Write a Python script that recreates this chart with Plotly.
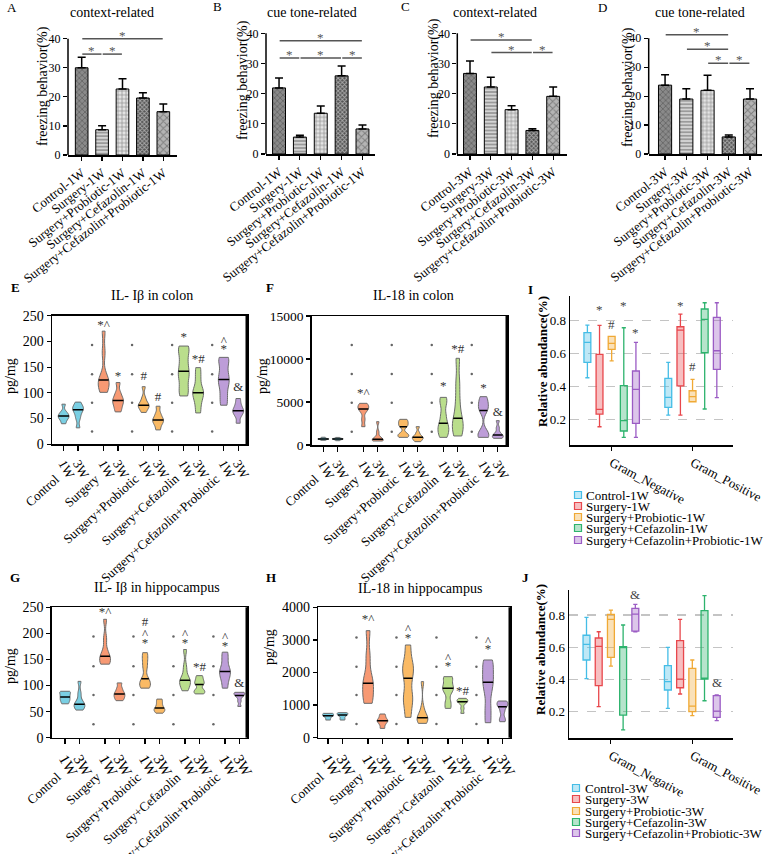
import numpy as np
import plotly.graph_objects as go

W, H = 767, 854
SERIF = "Liberation Serif"


def px_x(px):
    return px / W


def px_y(py):
    return 1 - py / H


# ------------------------------------------------------------------ data A-D
cats_1w = ["Control-1W", "Surgery-1W", "Surgery+Probiotic-1W",
           "Surgery+Cefazolin-1W", "Surgery+Cefazolin+Probiotic-1W"]
cats_3w = ["Control-3W", "Surgery-3W", "Surgery+Probiotic-3W",
           "Surgery+Cefazolin-3W", "Surgery+Cefazolin+Probiotic-3W"]

A_mean = [30.0, 8.7, 22.7, 19.6, 14.9]
A_top = [33.6, 10.1, 26.2, 21.4, 17.5]
B_mean = [21.9, 5.6, 13.5, 25.9, 8.3]
B_top = [25.2, 6.2, 15.9, 29.2, 9.6]
C_mean = [26.7, 22.2, 14.7, 7.8, 19.1]
C_top = [30.8, 25.4, 16.0, 8.4, 22.2]
D_mean = [23.8, 19.0, 22.0, 5.9, 19.0]
D_top = [27.4, 22.6, 27.2, 6.6, 22.6]

# significance brackets: (from bar, to bar, level)
A_sig = [(0, 4, 40.0), (0, 1, 34.7), (1, 2, 34.7)]
B_sig = [(0, 4, 37.5), (0, 1, 31.8), (1, 3, 31.8), (3, 4, 31.8)]
C_sig = [(0, 3, 37.8), (1, 3, 33.6), (3, 4, 33.6)]
D_sig = [(0, 3, 41.2), (1, 3, 36.2), (2, 3, 31.4), (3, 4, 31.4)]

freeze_ticks = [0, 10, 20, 30, 40]

# ------------------------------------------------------------------ data E-H (violins)
groups = ["Control", "Surgery", "Surgery+Probiotic", "Surgery+Cefazolin",
          "Surgery+Cefazolin+Probiotic"]
weeks = ["1W", "3W"]

E_1w = [[40, 48, 52, 55, 58, 63, 78],
        [101, 110, 118, 125, 130, 178, 220],
        [62, 70, 74, 76, 80, 90, 112],
        [94, 110, 130, 142, 160, 180, 191],
        [76, 95, 115, 126, 140, 160, 169]]
E_3w = [[32, 50, 60, 67, 70, 74, 82],
        [63, 72, 80, 85, 90, 100, 120],
        [28, 38, 44, 47, 52, 60, 74],
        [61, 80, 95, 100, 110, 130, 149],
        [41, 55, 62, 65, 70, 78, 89]]

F_1w = [[550, 620, 680, 700, 730, 800, 900],
        [2130, 3000, 3900, 4190, 4400, 4600, 4845],
        [890, 1100, 1300, 2130, 2400, 2700, 2985],
        [890, 1500, 2000, 2520, 3500, 4800, 5540],
        [890, 1100, 1500, 4000, 4400, 5000, 5620]]
F_3w = [[500, 600, 660, 700, 730, 780, 880],
        [465, 520, 580, 660, 800, 1500, 2710],
        [390, 600, 800, 890, 1000, 1400, 2130],
        [1050, 1800, 2500, 3100, 5000, 7200, 10080],
        [775, 900, 1000, 1160, 1400, 2000, 2830]]

G_1w = [[65, 70, 74, 78, 82, 86, 89],
        [141, 145, 150, 156, 165, 190, 227],
        [95, 100, 106, 113, 135, 150, 163],
        [90, 100, 105, 110, 114, 135, 169],
        [95, 110, 120, 127, 135, 150, 164]]
G_3w = [[53, 58, 62, 64, 70, 85, 108],
        [71, 76, 80, 84, 88, 95, 105],
        [47, 51, 54, 57, 62, 68, 74],
        [84, 88, 92, 102, 106, 112, 119],
        [60, 70, 78, 81, 84, 86, 87]]

H_1w = [[542, 600, 650, 675, 700, 730, 747],
        [1054, 1200, 1500, 1667, 1900, 2500, 3284],
        [624, 1100, 1300, 1820, 2100, 2300, 2844],
        [900, 1100, 1400, 1514, 1600, 1800, 1872],
        [460, 900, 1400, 1698, 1900, 2200, 2384]]
H_3w = [[542, 600, 660, 695, 720, 750, 767],
        [286, 400, 480, 520, 560, 640, 726],
        [440, 520, 580, 614, 650, 900, 1720],
        [747, 900, 1050, 1105, 1130, 1170, 1207],
        [491, 600, 800, 951, 1000, 1080, 1125]]

# significance marks: (group index, week index, y, text)
E_sig = [(1, 0, 230, "*^"), (1, 1, 131, "*"), (2, 0, 132, "#"), (2, 1, 90, "#"),
         (3, 0, 207, "*"), (3, 1, 164, "*#"), (4, 0, 199, "^"), (4, 0, 184, "*"),
         (4, 1, 110, "&")]
F_sig = [(1, 0, 6000, "*^"), (3, 0, 6780, "*"), (3, 1, 11050, "*#"),
         (4, 0, 6590, "*"), (4, 1, 3760, "&")]
G_sig = [(1, 0, 240, "*^"), (2, 0, 220, "#"), (2, 0, 198, "^"), (2, 0, 181, "*"),
         (3, 0, 198, "^"), (3, 0, 181, "*"), (3, 1, 134, "*#"),
         (4, 0, 192, "^"), (4, 0, 175, "*"), (4, 1, 104, "&")]
H_sig = [(1, 0, 3611, "*^"), (2, 0, 3300, "^"), (2, 0, 3050, "*"),
         (3, 0, 2435, "^"), (3, 0, 2180, "*"), (3, 1, 1412, "*#"),
         (4, 0, 2946, "^"), (4, 0, 2690, "*")]

# faint separator dots between groups
E_dots = [193, 136, 81, 25]
F_dots = [11630, 8260, 4920, 1550]
G_dots = [194, 137, 82, 26]
H_dots = [3070, 2180, 1310, 420]

# ------------------------------------------------------------------ data I-J (boxes)
gram_cats = ["Gram_Negative", "Gram_Positive"]
box_names_1w = ["Control-1W", "Surgery-1W", "Surgery+Probiotic-1W",
                "Surgery+Cefazolin-1W", "Surgery+Cefazolin+Probiotic-1W"]
box_names_3w = ["Control-3W", "Surgery-3W", "Surgery+Probiotic-3W",
                "Surgery+Cefazolin-3W", "Surgery+Cefazolin+Probiotic-3W"]

# per group: [Gram_Negative, Gram_Positive]
I_low = [[0.453, 0.226], [0.155, 0.226], [0.555, 0.307], [0.090, 0.263], [0.090, 0.332]]
I_q1 = [[0.547, 0.273], [0.232, 0.403], [0.626, 0.307], [0.129, 0.605], [0.176, 0.504]]
I_med = [[0.668, 0.334], [0.261, 0.743], [0.662, 0.338], [0.192, 0.808], [0.382, 0.617]]
I_q3 = [[0.727, 0.449], [0.595, 0.763], [0.705, 0.374], [0.405, 0.871], [0.494, 0.820]]
I_high = [[0.773, 0.547], [0.771, 0.840], [0.705, 0.443], [0.757, 0.909], [0.668, 0.909]]

J_low = [[0.404, 0.219], [0.229, 0.308], [0.482, 0.173], [0.084, 0.266], [0.696, 0.142]]
J_q1 = [[0.520, 0.333], [0.360, 0.347], [0.536, 0.198], [0.177, 0.401], [0.700, 0.163]]
J_med = [[0.617, 0.385], [0.605, 0.401], [0.773, 0.233], [0.599, 0.405], [0.806, 0.202]]
J_q3 = [[0.674, 0.485], [0.657, 0.640], [0.804, 0.468], [0.603, 0.827], [0.842, 0.298]]
J_high = [[0.786, 0.599], [0.696, 0.773], [0.831, 0.520], [0.738, 0.921], [0.867, 0.302]]

# (category index, group index, y, text)
I_sig = [(0, 1, 0.865, "*"), (0, 2, 0.777, "#"), (0, 3, 0.895, "*"), (0, 4, 0.727, "*"),
         (1, 1, 0.895, "*"), (1, 2, 0.524, "#"), (1, 3, 0.962, "*"), (1, 4, 0.986, "*")]
J_sig = [(0, 4, 0.931, "&"), (1, 4, 0.379, "&")]

abund_ticks = [0.2, 0.4, 0.6, 0.8]

# ------------------------------------------------------------------ styles
pat_shape = ["x", "-", "+", "x", "x"]
pat_fg = ["#2a2a2a", "#505050", "#5a5a5a", "#161616", "#f4f4f4"]
pat_base = ["#8a8a8a", "#d4d4d4", "#e4e4e4", "#555555", "#b4b4b4"]
pat_size = [4, 3.5, 4, 3, 5]
pat_sol = [0.4, 0.4, 0.35, 0.5, 0.35]

vio_colors = ["rgba(108,202,224,0.9)", "rgba(246,142,100,0.9)", "rgba(249,178,84,0.9)",
              "rgba(178,218,128,0.9)", "rgba(182,146,212,0.9)"]
box_line = ["#45bde6", "#e8474c", "#f0a935", "#2db36d", "#9b5cc4"]
box_fill = ["rgba(69,189,230,0.35)", "rgba(232,71,76,0.35)", "rgba(240,169,53,0.35)",
            "rgba(45,179,109,0.35)", "rgba(155,92,196,0.35)"]

fig = go.Figure()
shapes = []
annos = []
axes = {}


def refs(n):
    s = "" if n == 1 else str(n)
    return "x" + s, "y" + s, s


def text_anno(px, py, text, size, bold=False, angle=0, xanchor="center",
              yanchor="middle", color="black"):
    if bold:
        text = "<b>" + text + "</b>"
    annos.append(dict(xref="paper", yref="paper", x=px_x(px), y=px_y(py), text=text,
                      showarrow=False, textangle=angle, xanchor=xanchor, yanchor=yanchor,
                      font=dict(family=SERIF, size=size, color=color)))


# ------------------------------------------------------------------ top row bars
R = 42
top_panels = [
    dict(ax=1, cats=cats_1w, mean=A_mean, top=A_top, sig=A_sig, title="context-related",
         x0=68, x1=177, y0=155, ppu=2.9075, xr=[-0.67, 4.67], t=(112, 12), L=("A", 12, 7),
         yt=(43, 86)),
    dict(ax=2, cats=cats_1w, mean=B_mean, top=B_top, sig=B_sig, title="cue tone-related",
         x0=266, x1=375, y0=154, ppu=3.0175, xr=[-0.625, 4.6], t=(312, 12), L=("B", 217, 6),
         yt=(243, 80)),
    dict(ax=3, cats=cats_3w, mean=C_mean, top=C_top, sig=C_sig, title="context-related",
         x0=457.3, x1=566.7, y0=154, ppu=3.0175, xr=[-0.61, 4.65], t=(495, 12), L=("C", 405, 6),
         yt=(434, 78)),
    dict(ax=4, cats=cats_3w, mean=D_mean, top=D_top, sig=D_sig, title="cue tone-related",
         x0=648.7, x1=761.7, y0=154, ppu=2.8925, xr=[-0.77, 4.55], t=(700, 12), L=("D", 602, 7),
         yt=(628, 87)),
]

for p in top_panels:
    xa, ya, s = refs(p["ax"])
    err = [t - m for t, m in zip(p["top"], p["mean"])]
    fig.add_trace(go.Bar(
        x=p["cats"], y=p["mean"], xaxis=xa, yaxis=ya, width=0.62, showlegend=False,
        marker=dict(color=pat_base, line=dict(color="black", width=1),
                    pattern=dict(shape=pat_shape, fgcolor=pat_fg, size=pat_size,
                                 solidity=pat_sol, fillmode="overlay")),
        error_y=dict(type="data", symmetric=False, array=err, arrayminus=[0] * len(err),
                     color="black", thickness=1.5, width=4),
        hoverinfo="skip"))
    axes["xaxis" + s] = dict(domain=[px_x(p["x0"]), px_x(p["x1"])], anchor=ya,
                             type="category", range=p["xr"], showline=True, automargin=False,
                             linecolor="black", linewidth=1.5, ticks="outside", ticklen=4,
                             tickwidth=1.2, tickcolor="black", tickangle=-38,
                             tickfont=dict(family=SERIF, size=13, color="black"),
                             showgrid=False, zeroline=False)
    axes["yaxis" + s] = dict(domain=[px_y(p["y0"]), px_y(p["y0"] - R * p["ppu"])], anchor=xa,
                             range=[0, R], tickvals=freeze_ticks, ticks="outside", ticklen=4,
                             tickwidth=1.2, tickcolor="black", showline=False, showgrid=False,
                             automargin=False, zeroline=False,
                             tickfont=dict(family=SERIF, size=12, color="black"))
    shapes.append(dict(type="line", xref=xa + " domain", yref=ya, x0=0, x1=0,
                       y0=0, y1=max(freeze_ticks), line=dict(color="black", width=1.5)))
    for i, j, lv in p["sig"]:
        shapes.append(dict(type="line", xref=xa, yref=ya, x0=i + 0.03, x1=j - 0.03,
                           y0=lv, y1=lv, line=dict(color="#555555", width=1.5)))
        annos.append(dict(xref=xa, yref=ya, x=(i + j) / 2, y=lv, text="*", showarrow=False,
                          yanchor="bottom", yshift=-6,
                          font=dict(family=SERIF, size=13, color="#555555")))
    text_anno(p["t"][0], p["t"][1], p["title"], 14)
    text_anno(p["L"][1], p["L"][2], p["L"][0], 13)
    text_anno(p["yt"][0], p["yt"][1], "freezing behavior(%)", 14, angle=-90)

# ------------------------------------------------------------------ violins E-H
VW = 0.27
vio_panels = [
    dict(ax=5, d1=E_1w, d3=E_3w, sig=E_sig, dots=E_dots, yr=[0, 250],
         ticks=[0, 50, 100, 150, 200, 250], x0=52, x1=247, yt=315.7, yb=444.3,
         xr=[-0.47, 4.40], title="IL- Iβ in colon", t=(151.7, 295), L=("E", 15, 288),
         ytl=(10, 376), wfont=13, gshift=-24, tfont=14),
    dict(ax=6, d1=F_1w, d3=F_3w, sig=F_sig, dots=F_dots, yr=[0, 15000],
         ticks=[0, 5000, 10000, 15000], x0=311.7, x1=507, yt=316, yb=445,
         xr=[-0.47, 4.41], title="IL-18 in colon", t=(413, 295), L=("F", 270, 288),
         ytl=(262, 376), wfont=13, gshift=-24, tfont=13.5),
    dict(ax=8, d1=G_1w, d3=G_3w, sig=G_sig, dots=G_dots, yr=[0, 250],
         ticks=[0, 50, 100, 150, 200, 250], x0=51.7, x1=247, yt=607.3, yb=737.7,
         xr=[-0.515, 4.37], title="IL- Iβ in hippocampus", t=(157, 587), L=("G", 15, 577),
         ytl=(10, 666), wfont=15, gshift=-29, tfont=14),
    dict(ax=9, d1=H_1w, d3=H_3w, sig=H_sig, dots=H_dots, yr=[0, 4000],
         ticks=[0, 1000, 2000, 3000, 4000], x0=318.3, x1=510, yt=607.3, yb=737.7,
         xr=[-0.425, 4.37], title="IL-18 in hippocampus", t=(420, 588), L=("H", 271, 577),
         ytl=(269, 647), wfont=15, gshift=-29, tfont=14),
]

offs = [-0.18, 0.18]
for p in vio_panels:
    xa, ya, s = refs(p["ax"])
    tickpos, ticktxt = [], []
    for k in range(len(groups)):
        for w, data in enumerate([p["d1"][k], p["d3"][k]]):
            pos = k + offs[w]
            tickpos.append(pos)
            ticktxt.append(weeks[w])
            v = np.array(data, dtype=float)
            bw = 0.12 * (v.max() - v.min())
            fig.add_trace(go.Violin(
                x=np.full(len(v), pos), y=v, xaxis=xa, yaxis=ya, width=VW,
                scalemode="width", spanmode="hard", bandwidth=bw,
                fillcolor=vio_colors[k], line=dict(color="#6b6b6b", width=1),
                points=False, box_visible=False, meanline_visible=False,
                showlegend=False, hoverinfo="skip"))
            med = float(np.median(v))
            grid = np.linspace(v.min(), v.max(), 300)
            dens = np.exp(-0.5 * ((grid[:, None] - v[None, :]) / bw) ** 2).sum(1)
            dmed = np.exp(-0.5 * ((med - v) / bw) ** 2).sum()
            hw = VW / 2 * dmed / dens.max()
            fig.add_trace(go.Scatter(x=[pos - hw, pos + hw], y=[med, med], xaxis=xa, yaxis=ya,
                                     mode="lines", line=dict(color="black", width=1.5),
                                     showlegend=False, hoverinfo="skip"))
    dx, dy = [], []
    for k in range(len(groups) - 1):
        for yv in p["dots"]:
            dx.append(k + 0.53)
            dy.append(yv)
    fig.add_trace(go.Scatter(x=dx, y=dy, xaxis=xa, yaxis=ya, mode="markers",
                             marker=dict(size=2.5, color="#666666"), showlegend=False,
                             hoverinfo="skip"))
    fig.add_trace(go.Scatter(
        x=[g + offs[w] for g, w, _, _ in p["sig"]], y=[yv for _, _, yv, _ in p["sig"]],
        text=[t for _, _, _, t in p["sig"]], mode="text", xaxis=xa, yaxis=ya,
        textfont=dict(family=SERIF, size=13, color="#333333"), cliponaxis=False,
        showlegend=False, hoverinfo="skip"))
    axes["xaxis" + s] = dict(domain=[px_x(p["x0"]), px_x(p["x1"])], anchor=ya, range=p["xr"],
                             tickvals=tickpos, ticktext=ticktxt, tickangle=60,
                             ticks="outside", ticklen=5, tickwidth=1.2, tickcolor="black",
                             tickfont=dict(family=SERIF, size=p["wfont"], color="black"),
                             showline=True, mirror=True, linecolor="black", linewidth=1.5,
                             showgrid=False, zeroline=False, automargin=False)
    axes["yaxis" + s] = dict(domain=[px_y(p["yb"]), px_y(p["yt"])], anchor=xa, range=p["yr"],
                             tickvals=p["ticks"], ticktext=[str(t) for t in p["ticks"]],
                             ticks="outside", ticklen=4, tickwidth=1.2,
                             tickcolor="black",
                             tickfont=dict(family=SERIF, size=p["tfont"], color="black"),
                             showline=True, mirror=True, linecolor="black", linewidth=1.5,
                             showgrid=False, zeroline=False, automargin=False)
    shapes.append(dict(type="line", xref=xa + " domain", yref=ya + " domain", x0=1, x1=1,
                       y0=0, y1=1, line=dict(color="black", width=3)))
    for k, gname in enumerate(groups):
        annos.append(dict(xref=xa, yref=ya + " domain", x=k, y=0, text=gname,
                          showarrow=False, textangle=-42, xanchor="right", yanchor="top",
                          xshift=-6, yshift=p["gshift"],
                          font=dict(family=SERIF, size=13, color="black")))
    text_anno(p["t"][0], p["t"][1], p["title"], 14)
    text_anno(p["L"][1], p["L"][2], p["L"][0], 13, bold=True)
    text_anno(p["ytl"][0], p["ytl"][1], "pg/mg", 14, angle=-90)

# ------------------------------------------------------------------ boxes I-J
BOX_STEP = 0.15
box_panels = [
    dict(ax=7, low=I_low, q1=I_q1, med=I_med, q3=I_q3, high=I_high, sig=I_sig,
         names=box_names_1w, x0=570, x1=733, yt=296, yb=445, yr=[0.044, 0.95],
         L=("I", 530, 290), ytl=(542, 362), rows=[495, 506, 517, 528, 540], sw=578, tx=584),
    dict(ax=10, low=J_low, q1=J_q1, med=J_med, q3=J_q3, high=J_high, sig=J_sig,
         names=box_names_3w, x0=569, x1=733, yt=590, yb=738, yr=[0.034, 0.956],
         L=("J", 525, 577), ytl=(540, 650), rows=[788, 799, 811, 822, 833], sw=576, tx=583),
]

for p in box_panels:
    xa, ya, s = refs(p["ax"])
    for g in range(5):
        off = (g - 2) * BOX_STEP
        fig.add_trace(go.Box(
            x=[c + off for c in range(len(gram_cats))], q1=p["q1"][g], median=p["med"][g],
            q3=p["q3"][g], lowerfence=p["low"][g], upperfence=p["high"][g],
            xaxis=xa, yaxis=ya, width=0.085, whiskerwidth=0.6, fillcolor=box_fill[g],
            line=dict(color=box_line[g], width=1.3), boxpoints=False, showlegend=False,
            hoverinfo="skip", name=p["names"][g]))
    for c, g, yv, t in p["sig"]:
        annos.append(dict(xref=xa, yref=ya, x=c + (g - 2) * BOX_STEP, y=yv, text=t,
                          showarrow=False, font=dict(family=SERIF, size=13, color="#444444")))
    axes["xaxis" + s] = dict(domain=[px_x(p["x0"]), px_x(p["x1"])], anchor=ya,
                             range=[-0.515, 1.5], tickvals=list(range(len(gram_cats))),
                             ticktext=gram_cats, tickangle=28, ticks="outside", ticklen=4,
                             tickcolor="black",
                             tickfont=dict(family=SERIF, size=13, color="black"),
                             showline=True, linecolor="black", linewidth=1.5,
                             showgrid=False, zeroline=False, automargin=False)
    axes["yaxis" + s] = dict(domain=[px_y(p["yb"]), px_y(p["yt"])], anchor=xa, range=p["yr"],
                             tickvals=abund_ticks, ticktext=[f"{v:.1f}" for v in abund_ticks],
                             ticks="", tickfont=dict(family=SERIF, size=13, color="black"),
                             showline=True, linecolor="black", linewidth=1.5,
                             showgrid=True, gridcolor="#c4c4c4", griddash="dash",
                             gridwidth=1.2, zeroline=False, automargin=False)
    text_anno(p["L"][1], p["L"][2], p["L"][0], 13, bold=True)
    text_anno(p["ytl"][0], p["ytl"][1], "Relative abundance(%)", 13, bold=True, angle=-90)
    for g, (row, name) in enumerate(zip(p["rows"], p["names"])):
        shapes.append(dict(type="rect", xref="paper", yref="paper",
                           x0=px_x(p["sw"] - 3.5), x1=px_x(p["sw"] + 3.5),
                           y0=px_y(row + 3.5), y1=px_y(row - 3.5),
                           fillcolor=box_fill[g], line=dict(color=box_line[g], width=1.2)))
        text_anno(p["tx"], row, name, 13, xanchor="left")

fig.update_layout(
    template="none",
    width=W, height=H, autosize=False, margin=dict(l=0, r=0, t=0, b=0, pad=0),
    paper_bgcolor="white", plot_bgcolor="white", showlegend=False,
    violinmode="overlay", boxmode="overlay", hovermode=False,
    font=dict(family=SERIF, color="black"),
    shapes=shapes, annotations=annos, **axes)

fig.write_html("out.html",
               config={"displayModeBar": False, "staticPlot": True},
               post_script="document.body.style.margin='0px';"
                           "document.body.style.overflow='hidden';")
